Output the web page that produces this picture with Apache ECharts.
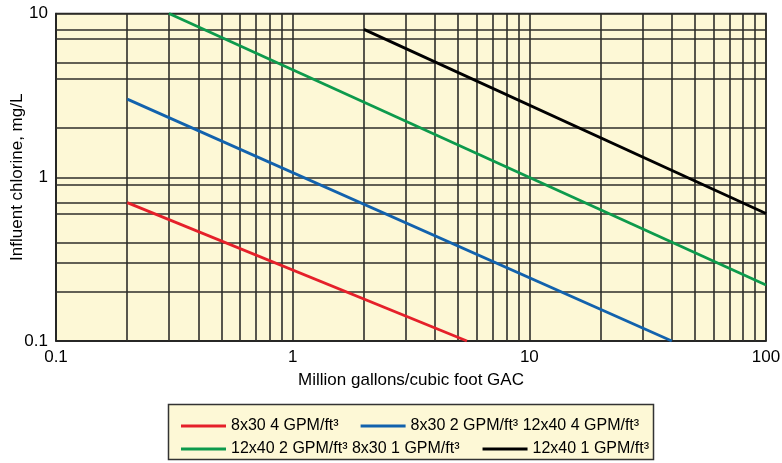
<!DOCTYPE html>
<html>
<head>
<meta charset="utf-8">
<script src="https://cdn.jsdelivr.net/npm/echarts@6/dist/echarts.min.js"></script>
<style>html,body{margin:0;padding:0;background:#fff}#c{width:782px;height:463px}</style>
</head>
<body>
<div id="c"></div>
<script>
// Data (log-log straight lines, endpoints)
var seriesNames = ['8x30 4 GPM/ft³', '8x30 2 GPM/ft³ 12x40 4 GPM/ft³', '12x40 2 GPM/ft³ 8x30 1 GPM/ft³', '12x40 1 GPM/ft³'];
var redX = [0.2, 5.45];   var redY = [0.7, 0.1];
var blueX = [0.2, 40];    var blueY = [3.0, 0.1];
var greenX = [0.3, 100];  var greenY = [10, 0.22];
var blackX = [2, 100];    var blackY = [8, 0.6];
// Grid lines present in the reference
var xGridValues = [0.2,0.3,0.4,0.5,0.6,0.7,0.8,0.9,2,3,4,5,6,7,8,9,20,30,40,50,60,70,80,90];
var yGridValues = [0.2,0.3,0.4,0.6,0.7,0.9,2,4,5,7,8];
var xTickLabels = ['0.1','1','10','100'];
var yTickLabels = ['0.1','1','10'];

function pairs(xs, ys){ return xs.map(function(x,i){ return [x, ys[i]]; }); }
var FONT = '"Liberation Sans", Arial, Helvetica, sans-serif';
var gridColor = '#2e2e2a';
var colors = ['#e5202a', '#1262ad', '#0d9a4c', '#000000'];

var chart = echarts.init(document.getElementById('c'), null, {renderer:'canvas'});
var lineData = [pairs(redX,redY), pairs(blueX,blueY), pairs(greenX,greenY), pairs(blackX,blackY)];
var series = lineData.map(function(d,i){
  return {
    name: seriesNames[i], type:'line', data:d, symbol:'none', z:5,
    lineStyle:{color:colors[i], width:2.8}, itemStyle:{color:colors[i]}, animation:false
  };
});
series.push({
  type:'line', data:[], silent:true, animation:false, z:2,
  markLine:{
    symbol:'none', silent:true, animation:false, label:{show:false},
    lineStyle:{color:gridColor, width:1.6, type:'solid'},
    emphasis:{disabled:true},
    data: xGridValues.map(function(v){return {xAxis:v};}).concat(yGridValues.map(function(v){return {yAxis:v};}))
  }
});

chart.setOption({
  animation:false,
  backgroundColor:'#ffffff',
  textStyle:{fontFamily:FONT},
  grid:{left:56, right:16, top:13.5, bottom:122, show:true, backgroundColor:'#fdf8d6', borderColor:'#222', borderWidth:1.5, containLabel:false, outerBoundsMode:'none'},
  graphic:[{
    type:'rect', z:-1, shape:{x:168.5, y:404.5, width:485, height:55},
    style:{fill:'#fdf8d6', stroke:'#333', lineWidth:1.5}
  }],
  legend:[{
    data:[seriesNames[0], seriesNames[1]], left:176, top:413, itemGap:22, itemWidth:45, itemHeight:3,
    icon:'rect', textStyle:{fontFamily:FONT, fontSize:16, color:'#000'}, selectedMode:false
  },{
    data:[seriesNames[2], seriesNames[3]], left:176, top:436, itemGap:23, itemWidth:45, itemHeight:3,
    icon:'rect', textStyle:{fontFamily:FONT, fontSize:16, color:'#000'}, selectedMode:false
  }],
  xAxis:{
    type:'log', logBase:10, min:0.1, max:100,
    name:'Million gallons/cubic foot GAC', nameLocation:'middle', nameGap:31, nameMoveOverlap:false,
    nameTextStyle:{fontFamily:FONT, fontSize:17, color:'#000'},
    axisLine:{show:true, lineStyle:{color:'#222', width:1.5}},
    axisTick:{show:false},
    axisLabel:{fontFamily:FONT, fontSize:17, color:'#000', margin:8,
      formatter:function(v){ var s = xTickLabels.filter(function(t){return Math.abs(parseFloat(t)-v)<1e-9*Math.max(1,v);}); return s.length?s[0]:''; }},
    splitLine:{show:true, lineStyle:{color:gridColor, width:1.6}}
  },
  yAxis:{
    type:'log', logBase:10, min:0.1, max:10,
    name:'Influent chlorine, mg/L', nameLocation:'middle', nameGap:30, nameMoveOverlap:false,
    nameTextStyle:{fontFamily:FONT, fontSize:17, color:'#000'},
    axisLine:{show:true, lineStyle:{color:'#222', width:1.5}},
    axisTick:{show:false},
    axisLabel:{fontFamily:FONT, fontSize:17, color:'#000', margin:8,
      formatter:function(v){ var s = yTickLabels.filter(function(t){return Math.abs(parseFloat(t)-v)<1e-9*Math.max(1,v);}); return s.length?s[0]:''; }},
    splitLine:{show:true, lineStyle:{color:gridColor, width:1.6}}
  },
  series:series
});
</script>
</body>
</html>
